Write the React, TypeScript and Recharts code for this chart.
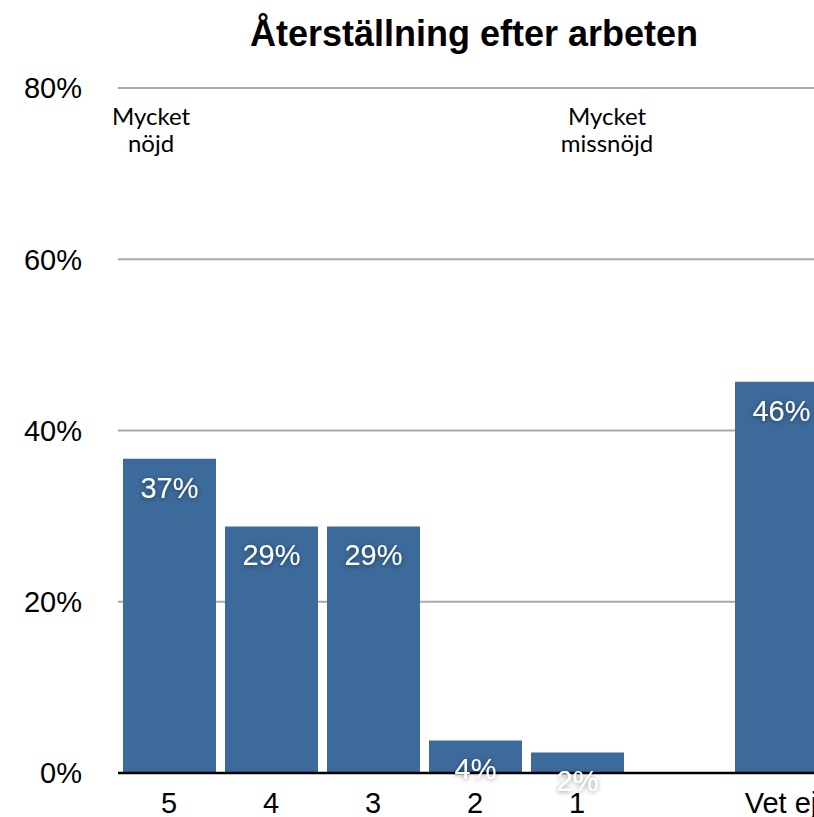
import React from "react";
import { BarChart, Bar, XAxis, YAxis, CartesianGrid, LabelList } from "recharts";

const categories = ["5", "4", "3", "2", "1", "", "Vet ej"];
const shares = [36.7, 28.8, 28.8, 3.8, 2.4, null, 45.7];
const yTicks = [0, 20, 40, 60, 80];
const title = "Återställning efter arbeten";
const leftNote = ["Mycket", "nöjd"];
const rightNote = ["Mycket", "missnöjd"];

const data = categories.map((c, i) => ({ cat: c, value: shares[i] }));

const FONT = "Helvetica, 'Liberation Sans', Arial, sans-serif";
const NOTE_FONT = "'Gill Sans', Lato, 'Open Sans', sans-serif";

const renderLabel = (props: any) => {
  const { x, y, width, value } = props;
  if (value === null || value === undefined) return null;
  return (
    <text
      x={Number(x) + Number(width) / 2}
      y={Number(y) + 39}
      textAnchor="middle"
      fill="#ffffff"
      fontSize={29}
      fontFamily={FONT}
      filter="url(#lblShadow)"
    >
      {Math.round(Number(value))}%
    </text>
  );
};

export default function App() {
  return (
    <div
      style={{
        position: "absolute",
        left: 0,
        top: 0,
        width: 814,
        height: 817,
        overflow: "hidden",
        background: "#fff",
      }}
    >
      <BarChart
        width={840}
        height={817}
        data={data}
        margin={{ top: 88, right: 8, bottom: 0, left: 0 }}
      >
        <CartesianGrid vertical={false} stroke="#a9a9a9" strokeWidth={2} />
        <XAxis
          dataKey="cat"
          interval={0}
          height={44}
          tickLine={false}
          tickSize={0}
          tickMargin={19}
          axisLine={{ stroke: "#000", strokeWidth: 2.5 }}
          tick={{ fill: "#000", fontSize: 29, fontFamily: FONT }}
        />
        <YAxis
          width={118}
          domain={[0, 80]}
          ticks={yTicks}
          axisLine={false}
          tickLine={false}
          tickSize={0}
          tickMargin={36}
          tickFormatter={(v: number) => `${v}%`}
          tick={{ fill: "#000", fontSize: 29, fontFamily: FONT }}
        />
        <Bar dataKey="value" fill="#3c6a9b" barSize={93} isAnimationActive={false}>
          <LabelList dataKey="value" content={renderLabel} />
        </Bar>
      </BarChart>
      <svg
        width={814}
        height={817}
        style={{ position: "absolute", left: 0, top: 0, pointerEvents: "none" }}
      >
        <defs>
          <filter id="lblShadow" x="-30%" y="-40%" width="160%" height="180%">
            <feDropShadow dx="0" dy="1" stdDeviation="2.5" floodColor="#000" floodOpacity="0.45" />
          </filter>
        </defs>
        <text
          x={474}
          y={46}
          textAnchor="middle"
          fontSize={36}
          fontWeight="bold"
          fontFamily={FONT}
          fill="#000"
        >
          {title}
        </text>
        {leftNote.map((t, i) => (
          <text
            key={"l" + i}
            x={151}
            y={125 + i * 27}
            textAnchor="middle"
            fontSize={24}
            fontFamily={NOTE_FONT}
            fill="#000"
          >
            {t}
          </text>
        ))}
        {rightNote.map((t, i) => (
          <text
            key={"r" + i}
            x={607}
            y={125 + i * 27}
            textAnchor="middle"
            fontSize={24}
            fontFamily={NOTE_FONT}
            fill="#000"
          >
            {t}
          </text>
        ))}
      </svg>
    </div>
  );
}
